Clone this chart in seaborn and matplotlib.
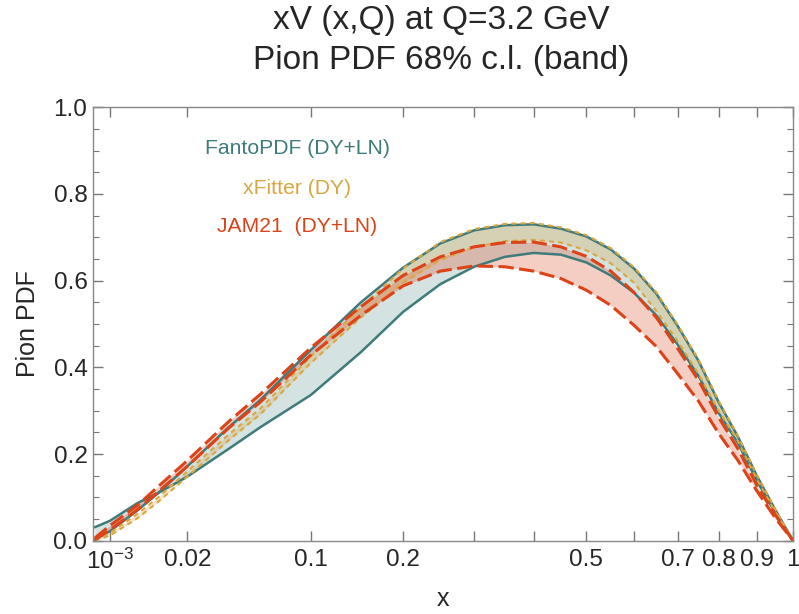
import numpy as np
import pandas as pd
import matplotlib
matplotlib.use("Agg")
import matplotlib.pyplot as plt
from matplotlib.ticker import FixedLocator, MultipleLocator
import seaborn as sns

# ---------------- data ----------------
x_vals = [1e-4, 1e-3, 0.005, 0.01, 0.02, 0.04, 0.06, 0.1, 0.15, 0.2, 0.25, 0.3,
          0.35, 0.4, 0.45, 0.5, 0.55, 0.6, 0.65, 0.7, 0.75, 0.8, 0.85, 0.9, 0.95, 1.0]

fanto_a = [0.031, 0.046, 0.087, 0.110, 0.148, 0.212, 0.262, 0.336, 0.435, 0.528, 0.592, 0.632,
           0.655, 0.664, 0.660, 0.642, 0.612, 0.572, 0.520, 0.452, 0.380, 0.295, 0.225, 0.138, 0.065, 0.0]
fanto_b = [0.002, 0.022, 0.070, 0.110, 0.172, 0.262, 0.325, 0.440, 0.550, 0.630, 0.686, 0.716,
           0.728, 0.730, 0.720, 0.702, 0.672, 0.628, 0.570, 0.495, 0.415, 0.320, 0.240, 0.150, 0.072, 0.0]

xfit_lo = [0.000, 0.012, 0.052, 0.090, 0.148, 0.232, 0.292, 0.410, 0.515, 0.595, 0.648, 0.677,
           0.691, 0.694, 0.688, 0.670, 0.640, 0.595, 0.530, 0.460, 0.385, 0.300, 0.230, 0.142, 0.067, 0.0]
xfit_hi = [0.002, 0.018, 0.062, 0.100, 0.160, 0.245, 0.305, 0.425, 0.538, 0.628, 0.689, 0.719,
           0.731, 0.733, 0.723, 0.705, 0.675, 0.631, 0.573, 0.498, 0.418, 0.323, 0.242, 0.152, 0.073, 0.0]

jam_hi = [0.006, 0.035, 0.082, 0.125, 0.185, 0.275, 0.338, 0.445, 0.540, 0.612, 0.655, 0.678,
          0.688, 0.689, 0.678, 0.656, 0.622, 0.573, 0.515, 0.443, 0.370, 0.285, 0.212, 0.128, 0.060, 0.0]
jam_lo = [0.002, 0.025, 0.072, 0.113, 0.172, 0.260, 0.320, 0.428, 0.520, 0.588, 0.622, 0.634,
          0.632, 0.622, 0.605, 0.578, 0.543, 0.497, 0.448, 0.385, 0.322, 0.248, 0.185, 0.115, 0.053, 0.0]

x_ticks = [1e-3, 0.02, 0.1, 0.2, 0.5, 0.7, 0.8, 0.9, 1.0]
x_tick_labels = ["$10^{-3}$", "0.02", "0.1", "0.2", "0.5", "0.7", "0.8", "0.9", "1"]
x_minor = [0.3, 0.4, 0.6]
y_ticks = [0.0, 0.2, 0.4, 0.6, 0.8, 1.0]

legend_labels = ["FantoPDF (DY+LN)", "xFitter (DY)", "JAM21  (DY+LN)"]
title_lines = ["xV (x,Q) at Q=3.2 GeV", "Pion PDF 68% c.l. (band)"]

# ---------------- style ----------------
sns.set_theme(style="ticks")
plt.rcParams["font.family"] = ["Liberation Sans", "DejaVu Sans"]
plt.rcParams["mathtext.fontset"] = "custom"
plt.rcParams["mathtext.rm"] = "Liberation Sans"
plt.rcParams["mathtext.it"] = "Liberation Sans:italic"

teal = "#3e7b7a"
gold = "#d9a742"
red = "#dc4318"

df = pd.DataFrame({"x": x_vals, "fa": fanto_a, "fb": fanto_b, "xl": xfit_lo,
                   "xh": xfit_hi, "jh": jam_hi, "jl": jam_lo})

fig = plt.figure(figsize=(7.99, 6.14), dpi=100)
ax = fig.add_axes([93 / 799, 1 - 540.7 / 614, (793 - 93) / 799, (540.7 - 107.3) / 614])

fwd = lambda v: np.sqrt(np.clip(v, 0, None))
inv = lambda v: np.square(v)
ax.set_xscale("function", functions=(fwd, inv))

# fills
ax.fill_between(df["x"], df["fa"], df["fb"], color=teal, alpha=0.22, lw=0)
ax.fill_between(df["x"], df["xl"], df["xh"], color=gold, alpha=0.28, lw=0)
ax.fill_between(df["x"], df["jl"], df["jh"], color=red, alpha=0.26, lw=0)

# lines
for col in ["fa", "fb"]:
    sns.lineplot(data=df, x="x", y=col, ax=ax, color=teal, lw=1.8, sort=False,
                 estimator=None)
for col in ["xl", "xh"]:
    sns.lineplot(data=df, x="x", y=col, ax=ax, color=gold, lw=1.5, sort=False,
                 estimator=None, linestyle=(0, (2.4, 2.0)))
for col in ["jh", "jl"]:
    sns.lineplot(data=df, x="x", y=col, ax=ax, color=red, lw=2.2, sort=False,
                 estimator=None, linestyle=(0, (5.0, 1.8)))

ax.set_xlim(5.66e-5, 1.0)
ax.set_ylim(0, 1.0)

ax.xaxis.set_major_locator(FixedLocator(x_ticks))
ax.set_xticklabels(x_tick_labels)
ax.xaxis.set_minor_locator(FixedLocator(x_minor))
ax.yaxis.set_major_locator(FixedLocator(y_ticks))
ax.set_yticklabels([f"{v:.1f}" for v in y_ticks])
ax.yaxis.set_minor_locator(MultipleLocator(0.05))

ax.tick_params(which="both", direction="in", top=True, right=True, color="#777777")
ax.tick_params(which="major", length=7, width=1, labelsize=17.5, pad=6)
ax.tick_params(axis="y", which="major", pad=4)
ax.tick_params(which="minor", length=4, width=0.8)
ax.tick_params(axis="x", which="minor", length=7, width=1)
for s in ax.spines.values():
    s.set_color("#888888")
    s.set_linewidth(1.0)

ax.set_xlabel("x", fontsize=18, labelpad=9)
ax.set_ylabel("Pion PDF", fontsize=18, labelpad=10)

# legend as coloured text
for lab, col, yp in zip(legend_labels, [teal, gold, red], [149, 188, 227]):
    fig.text(297 / 799, 1 - yp / 614, lab, color=col, fontsize=15.2,
             ha="center", va="center")

fig.text(441 / 799, 1 - 21 / 614, title_lines[0], fontsize=24, ha="center", va="center")
fig.text(441 / 799, 1 - 60 / 614, title_lines[1], fontsize=24, ha="center", va="center")

fig.savefig("out.png", dpi=100)
